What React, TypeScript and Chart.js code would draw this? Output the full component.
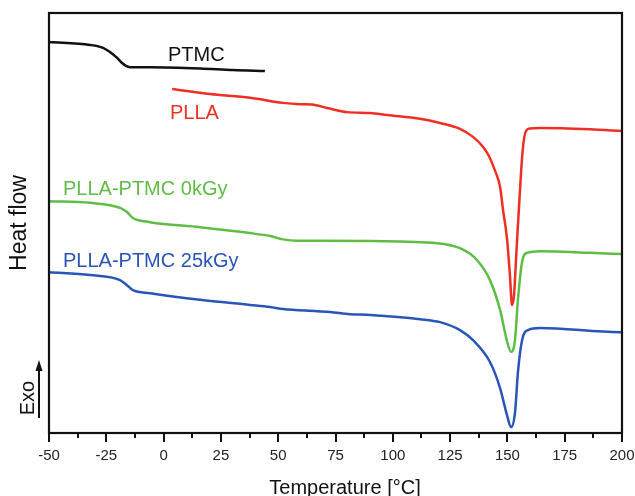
import React, { useEffect, useRef } from 'react';
import { Chart, registerables } from 'chart.js';

Chart.register(...registerables);

// Temperature (°C) / heat flow (arbitrary units, exo up)
const ptmcT = [-50, -32.1, -26.4, -23.4, -20.3, -18.1, -16.4, -14.7, -5.9, 15.9, 30.3, 44.2];
const ptmcH = [93.1, 92.4, 91.7, 90.7, 89.3, 88.1, 87.4, 87.1, 87.1, 86.8, 86.4, 86.2];

const pllaT = [3.7, 20.2, 37.7, 52.1, 59.5, 64.7, 71.3, 80.0, 90.1, 97.5, 111.9, 120.6, 129.3, 135.0, 139.4, 142.0, 144.5, 146.8, 148.1, 149.8, 151.1, 152.0, 152.9, 153.7, 154.6, 155.5, 156.4, 157.3, 158.1, 159.9, 164.2, 186.0, 200];
const pllaH = [81.9, 80.7, 79.8, 78.6, 78.3, 78.2, 77.4, 76.4, 76.2, 75.7, 74.8, 73.8, 72.4, 70.5, 68.1, 65.9, 62.6, 58.6, 53.1, 46.4, 37.6, 30.5, 32.9, 40.7, 49.5, 57.9, 65.5, 70.2, 71.9, 72.5, 72.6, 72.3, 71.9];

const blend0T = [-50, -32.1, -19.0, -16.0, -13.4, -5.9, 15.9, 37.7, 46.4, 52.1, 58.2, 66.9, 90.1, 119.3, 129.3, 136.7, 142.4, 146.8, 149.8, 151.6, 153.3, 154.6, 156.4, 158.6, 164.2, 186.0, 200];
const blend0H = [55.2, 54.8, 53.6, 52.6, 51.2, 50.2, 49.0, 47.6, 46.9, 46.1, 45.8, 45.8, 45.7, 45.2, 44.0, 41.2, 36.4, 29.3, 21.9, 19.3, 22.1, 31.7, 40.7, 42.9, 43.3, 42.9, 42.6];

const blend25T = [-50, -32.1, -19.0, -16.0, -13.4, -5.9, 15.9, 37.7, 46.4, 52.1, 66.9, 72.6, 81.3, 90.1, 111.9, 120.6, 129.3, 135.0, 142.4, 146.8, 149.8, 151.6, 153.3, 154.6, 156.4, 159.0, 164.2, 199.1, 200];
const blend25H = [38.3, 37.6, 36.4, 35.2, 34.0, 33.3, 31.7, 30.5, 30.0, 29.5, 29.0, 28.8, 28.3, 28.1, 27.1, 26.4, 24.5, 22.1, 16.9, 10.7, 4.3, 1.4, 4.8, 14.5, 22.1, 24.5, 25.0, 24.0, 24.0];

const seriesNames = ['PTMC', 'PLLA', 'PLLA-PTMC 0kGy', 'PLLA-PTMC 25kGy'];
const seriesColors = ['#111111', '#ee2f24', '#5fbd45', '#2a55b8'];
// label anchor (left, baseline) in data units
const labelT = [1.9, 2.8, -43.9, -43.9];
const labelH = [88.6, 74.8, 56.7, 39.5];

const xMajorTicks = [-50, -25, 0, 25, 50, 75, 100, 125, 150, 175, 200];
const xTitle = 'Temperature [°C]';
const yTitle = 'Heat flow';
const exoLabel = 'Exo';

const FONT = '"Liberation Sans", Arial, sans-serif';

function pts(t: number[], h: number[]) {
  return t.map((x, i) => ({ x, y: h[i] }));
}

const decorPlugin = {
  id: 'decor',
  afterDraw(chart: any) {
    const { ctx, chartArea } = chart;
    const xs = chart.scales.x;
    const ys = chart.scales.y;
    ctx.save();
    // frame
    ctx.strokeStyle = '#111';
    ctx.lineWidth = 2.2;
    ctx.strokeRect(chartArea.left, chartArea.top, chartArea.right - chartArea.left, chartArea.bottom - chartArea.top);
    // minor ticks
    ctx.lineWidth = 2;
    for (let i = 0; i < xMajorTicks.length - 1; i++) {
      const v = (xMajorTicks[i] + xMajorTicks[i + 1]) / 2;
      const px = Math.round(xs.getPixelForValue(v));
      ctx.beginPath();
      ctx.moveTo(px, chartArea.bottom);
      ctx.lineTo(px, chartArea.bottom + 5);
      ctx.stroke();
    }
    // series labels
    ctx.font = `20px ${FONT}`;
    ctx.textBaseline = 'alphabetic';
    ctx.textAlign = 'left';
    seriesNames.forEach((name, i) => {
      ctx.fillStyle = seriesColors[i];
      ctx.fillText(name, xs.getPixelForValue(labelT[i]), ys.getPixelForValue(labelH[i]));
    });
    // x title
    ctx.fillStyle = '#111';
    ctx.font = `20px ${FONT}`;
    ctx.textAlign = 'center';
    ctx.fillText(xTitle, 345, 494);
    // y title
    ctx.save();
    ctx.translate(26, 223);
    ctx.rotate(-Math.PI / 2);
    ctx.font = `23px ${FONT}`;
    ctx.textAlign = 'center';
    ctx.textBaseline = 'alphabetic';
    ctx.fillText(yTitle, 0, 0);
    ctx.restore();
    // Exo with arrow
    ctx.save();
    ctx.translate(34, 398);
    ctx.rotate(-Math.PI / 2);
    ctx.font = `20px ${FONT}`;
    ctx.textAlign = 'center';
    ctx.fillText(exoLabel, 0, 0);
    ctx.restore();
    ctx.strokeStyle = '#111';
    ctx.lineWidth = 2;
    ctx.beginPath();
    ctx.moveTo(39, 418);
    ctx.lineTo(39, 368);
    ctx.stroke();
    ctx.fillStyle = '#111';
    ctx.beginPath();
    ctx.moveTo(39, 360);
    ctx.lineTo(35.5, 371);
    ctx.lineTo(42.5, 371);
    ctx.closePath();
    ctx.fill();
    ctx.restore();
  },
};

export default function App() {
  const ref = useRef<HTMLCanvasElement | null>(null);
  useEffect(() => {
    document.body.style.margin = '0';
    const canvas = ref.current;
    if (!canvas) return;
    const mk = (i: number, t: number[], h: number[]) => ({
      label: seriesNames[i],
      data: pts(t, h),
      borderColor: seriesColors[i],
      backgroundColor: seriesColors[i],
      borderWidth: 2.5,
      pointRadius: 0,
      cubicInterpolationMode: 'monotone' as const,
      fill: false,
    });
    const chart = new Chart(canvas, {
      type: 'line',
      data: {
        datasets: [
          mk(0, ptmcT, ptmcH),
          mk(1, pllaT, pllaH),
          mk(2, blend0T, blend0H),
          mk(3, blend25T, blend25H),
        ],
      },
      options: {
        animation: false,
        responsive: false,
        maintainAspectRatio: false,
        layout: { padding: { left: 49, right: 13, top: 13, bottom: 0 } },
        plugins: { legend: { display: false }, tooltip: { enabled: false } },
        scales: {
          x: {
            type: 'linear',
            min: -50,
            max: 200,
            afterBuildTicks: (s: any) => {
              s.ticks = xMajorTicks.map((v) => ({ value: v }));
            },
            afterFit: (s: any) => {
              s.height = 63;
              s.paddingLeft = 0;
              s.paddingRight = 0;
            },
            grid: {
              display: true,
              drawOnChartArea: false,
              drawTicks: true,
              tickLength: 9,
              color: '#111',
              lineWidth: 2,
            },
            border: { display: true, color: '#111', width: 2 },
            ticks: {
              color: '#222',
              font: { family: FONT, size: 15 },
              padding: 5,
              maxRotation: 0,
              autoSkip: false,
            },
          },
          y: {
            type: 'linear',
            display: false,
            min: 0,
            max: 100,
          },
        },
      },
      plugins: [decorPlugin],
    });
    return () => chart.destroy();
  }, []);
  return (
    <div style={{ width: 635, height: 496, background: '#fff' }}>
      <canvas ref={ref} width={635} height={496} style={{ display: 'block' }} />
    </div>
  );
}
